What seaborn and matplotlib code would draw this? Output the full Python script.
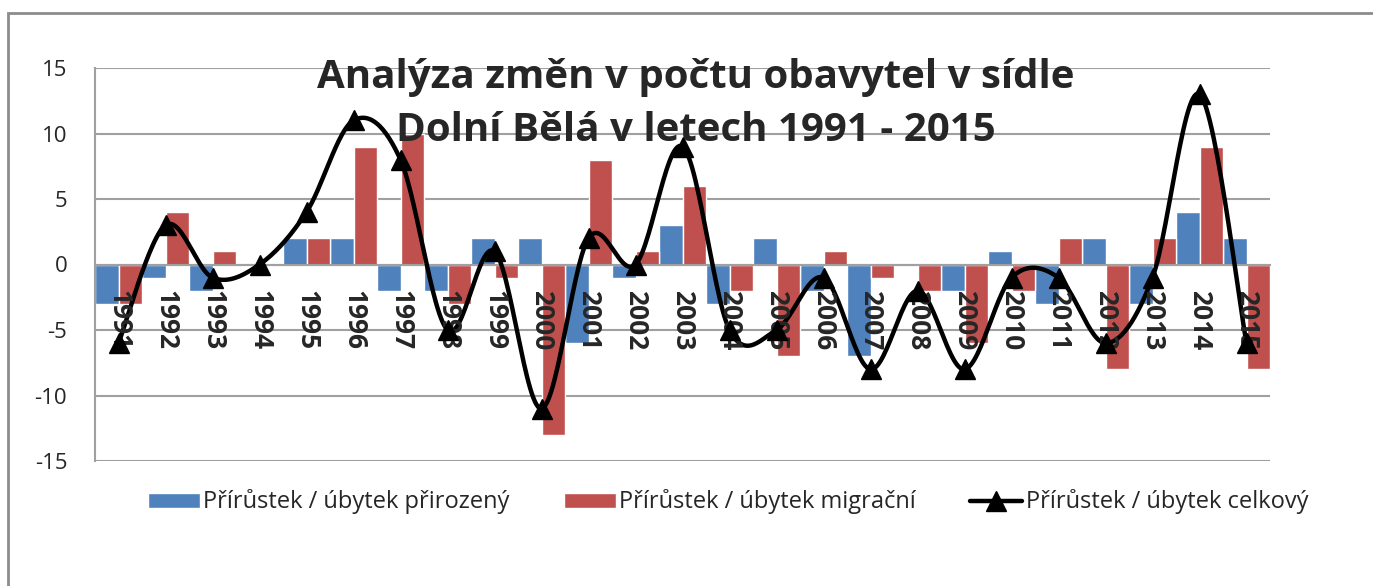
import numpy as np
import pandas as pd
import seaborn as sns
import matplotlib.pyplot as plt
from matplotlib.lines import Line2D
from matplotlib.patches import Rectangle

roky = [str(r) for r in range(1991, 2016)]
prirozeny = [-3, -1, -2, 0, 2, 2, -2, -2, 2, 2, -6, -1, 3, -3, 2, -2, -7, 0, -2, 1, -3, 2, -3, 4, 2]
migracni = [-3, 4, 1, 0, 2, 9, 10, -3, -1, -13, 8, 1, 6, -2, -7, 1, -1, -2, -6, -2, 2, -8, 2, 9, -8]
celkovy = [-6, 3, -1, 0, 4, 11, 8, -5, 1, -11, 2, 0, 9, -5, -5, -1, -8, -2, -8, -1, -1, -6, -1, 13, -6]

lbl_pr = "Přírůstek / úbytek přirozený"
lbl_mi = "Přírůstek / úbytek migrační"
lbl_ce = "Přírůstek / úbytek celkový"

BLUE = "#4F81BD"
RED = "#C0504D"
GRID = "#A0A0A0"


def smooth_curve(y, n=30):
    # excel-like smoothed line (bezier through points)
    x = np.arange(len(y), dtype=float)
    y = np.asarray(y, dtype=float)
    pts = np.column_stack([x, y])
    out = []
    for i in range(len(pts) - 1):
        p0 = pts[max(i - 1, 0)]
        p1 = pts[i]
        p2 = pts[i + 1]
        p3 = pts[min(i + 2, len(pts) - 1)]
        c1 = p1 + (p2 - p0) / 6
        c2 = p2 - (p3 - p1) / 6
        t = np.linspace(0, 1, n)[:, None]
        seg = ((1 - t) ** 3) * p1 + 3 * ((1 - t) ** 2) * t * c1 + 3 * (1 - t) * t ** 2 * c2 + t ** 3 * p2
        out.append(seg if i == 0 else seg[1:])
    seg = np.vstack(out)
    return seg[:, 0], seg[:, 1]


sns.set_style("white")
plt.rcParams["font.family"] = ["Open Sans", "DejaVu Sans"]
plt.rcParams["axes.unicode_minus"] = False

df = pd.DataFrame({
    "rok": roky * 2,
    "hodnota": prirozeny + migracni,
    "typ": [lbl_pr] * len(roky) + [lbl_mi] * len(roky),
})

fig = plt.figure(figsize=(13.73, 5.86), dpi=100)
ax = fig.add_axes([95 / 1373, 1 - 461 / 586, (1270 - 95) / 1373, (461 - 68) / 586])

sns.barplot(data=df, x="rok", y="hodnota", hue="typ", palette=[BLUE, RED],
            width=1.0, saturation=1, ax=ax, legend=True, errorbar=None, zorder=2)

sx, sy = smooth_curve(celkovy)
ax.plot(sx, sy, color="black", lw=3.2, zorder=4, solid_capstyle="round")
ax.plot(np.arange(len(roky)), celkovy, ls="none", marker="^", ms=14, color="black", zorder=5)

ax.set_ylim(-15, 15)
ax.set_xlim(-0.5, len(roky) - 0.5)
ax.set_yticks(range(-15, 16, 5))
ax.yaxis.grid(True, color=GRID, lw=1.5)
ax.set_axisbelow(True)
ax.xaxis.set_zorder(4.5)
ax.set_xlabel("")
ax.set_ylabel("")

for s in ["top", "right"]:
    ax.spines[s].set_visible(False)
ax.spines["left"].set_color(GRID)
ax.spines["left"].set_linewidth(1.5)
ax.spines["bottom"].set_position(("data", 0))
ax.spines["bottom"].set_color(GRID)
ax.spines["bottom"].set_linewidth(1.5)
ax.spines["bottom"].set_zorder(3)

ax.set_xticks(np.arange(len(roky)))
ax.set_xticklabels(roky, rotation=270, fontsize=19, fontweight="bold", va="top", ha="center")
ax.set_xticks(np.arange(len(roky) + 1) - 0.5, minor=True)
ax.tick_params(axis="x", which="major", length=0, pad=18)
ax.tick_params(axis="x", which="minor", length=8, width=1.5, color=GRID, direction="out")
ax.tick_params(axis="y", length=9, width=1.5, color=GRID, labelsize=16, pad=11)

fig.text(0.507, 1 - 88 / 586, "Analýza změn v počtu obavytel v sídle", ha="center",
         va="baseline", fontsize=29, fontweight="bold")
fig.text(0.507, 1 - 141 / 586, "Dolní Bělá v letech 1991 - 2015", ha="center",
         va="baseline", fontsize=29, fontweight="bold")

handles, labels = ax.get_legend_handles_labels()
handles = handles[:2] + [Line2D([], [], color="black", lw=3.2, marker="^", ms=14)]
labels = [lbl_pr, lbl_mi, lbl_ce]
ax.legend(handles, labels, loc="center", bbox_to_anchor=(728 / 1373, 1 - 502 / 586),
          bbox_transform=fig.transFigure, ncol=3, frameon=False, fontsize=17,
          handlelength=2.2, handleheight=0.6, handletextpad=0.15, columnspacing=2.3)

fig.patches.append(Rectangle((8 / 1373, -0.1), 1.1, 1 - 13 / 586 + 0.1, transform=fig.transFigure,
                             fill=False, edgecolor="#8C8C8C", lw=2, zorder=0))

fig.savefig("out.png", dpi=100)
